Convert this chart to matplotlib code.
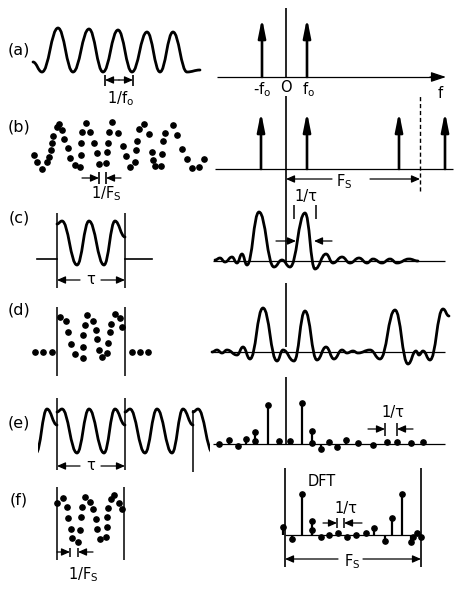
import matplotlib
matplotlib.use("Agg")
import matplotlib.pyplot as plt
from matplotlib.path import Path
from matplotlib.patches import PathPatch, Rectangle
from matplotlib.transforms import Affine2D

# ---- values, in panel-local units (t to the right, amplitude up) ----
# (a) continuous sinusoid: extrema
a_t = [-24, -15, 1, 16, 32, 46, 61, 75, 90, 103, 116, 130, 143]
a_v = [-12, -22, 22, -22, 21, -22, 20, -22, 18, -22, 18, -22, -20]
# (a) spectrum lines at -f0, f0
a_f = [-24, 21]
a_h = [59, 59]

# (b) sampled sinusoid
b_t = [-22.7, -19.7, -15.3, -10.3, -8, -6.3, -5.3, -4.3, -0.3, 2.3, 5, 7.3, 10.7, 13, 18, 23,
       23.7, 24, 25, 29, 33, 37.3, 39.7, 42.3, 49, 49.7, 51.3, 52, 55.3, 61.3, 66.3, 69, 73,
       78, 79, 79.7, 82.3, 87, 92.3, 94.7, 96.3, 98, 103.7, 104.7, 106.3, 108, 115.7, 119.7,
       124.7, 129.7, 134.7, 142, 147]
b_v = [-9, -15.7, -23, -15.7, -10.7, -4, 2.7, 10, 19.3, 22, 16, 6.7, -2.3, -12.3, -19, -20.7,
       -9, 2.7, 14.3, 23.3, 13.7, 2.7, -7.3, -18, -16.7, -6.3, 3.3, 14.3, 24.3, 12.7, 0, -10, -20.7,
       -15.7, -4, 5.3, 16.7, 22, 11.7, -5.7, -14, -20, -20, -8, 5.3, 13, 21, 11,
       -3.3, -13.3, -22.3, -20.7, -13.3]
# (b) spectrum lines (periodic with Fs)
b_f = [-25, 21, 113, 159]
b_h = [57, 57, 57, 57]
fs = 134

# (c) windowed signal, one window of length tau
tau = 68
w_t = [0, 5, 20, 32, 47, 58, 68]
w_v = [19, 22, -22, 22, -22, 22, 6]
c_zero = -16
# (c) spectrum of window: extrema
c_f = [-71, -66, -61, -54, -49, -44, -39, -27, -12, -4, 4, 19, 29, 40, 47, 56, 64, 73, 81, 87,
       96, 104, 111, 123, 132]
c_S = [1, 3, -1, 4, -2, 7, -4, 49, -6, 1, -6, 48, -8, 7, -2, 4, -2, 3, -2, 2, -2, 2, -2, 2, 0]

# (d) sampled window with zeros outside
d_t = [-22, -13.7, -4.7, 3, 9, 11.3, 14, 18, 25.7, 26.3, 26.3, 28, 30.3, 35.7, 38.7, 40.3, 42.3,
       45.3, 50.3, 51.3, 53, 54, 58, 63, 65.3, 74.7, 83, 91.3]
d_v = [0, 0, 0, 34.7, 31.3, 20.3, 8, -2.3, -6.3, 4.7, 17, 27, 37, 31.3, 22, 12.7, 2, -5.3, -1.3,
       9.3, 19.7, 28, 38, 33.7, 24.7, 0, 0, 0]
# (d) periodic spectrum: extrema
d_f = [-74, -69, -64, -59, -49, -43, -36, -23, -9, -3, 8, 19, 31, 40, 48, 56, 61, 67, 72, 84,
       94, 109, 122, 130, 133, 137, 144, 157, 163]
d_S = [0, 2, -1, 2, -3, 5, -7, 44, -9, 2, -9, 41, -8, 5, -7, 2, -1, 1, -1, 2, -7, 42, -12, 1,
       -3, 1, -8, 43, 36]

# (e) sampled spectrum (stems)
e_f = [-66.7, -56.7, -48.3, -40, -31, -31, -18.3, -6.7, 4, 15.7, 25.7, 25.7, 35, 43.3, 51.3,
       60, 72.3, 87.3, 100.7, 111.3, 125, 137.3]
e_S = [0, 4, -2, 5, 12.3, 3, 39, 3, 3, 41.3, 13, 1.3, -5.3, 2.3, -3.3, 4, 0.7, -1, 1.7, 1.7,
       0.7, 1.7]

# (f) samples of one window
f_t = [0.3, 5.7, 9.7, 11.3, 13.7, 14.7, 20.7, 23, 23.7, 24.7, 28, 33, 35.7, 38.7, 40.3, 43, 49,
       49.7, 50.3, 51.3, 54, 57.3, 62, 65.3]
f_v = [15.3, 19.7, 11.3, -0.3, -11.3, -19.7, -23.7, -12, 0.7, 11.3, 21.3, 16.3, 8.7, -1.3,
       -11.3, -21.3, -19.3, -9.3, 0.7, 10, 19, 22.7, 15.3, 9]
# (f) DFT over one period Fs
g_f = [-2.7, 5.7, 15.7, 25.7, 25.7, 35, 43.3, 51.7, 60.7, 70.3, 80, 88.3, 99, 105.7, 116.3,
       125, 127.3, 130.7, 134.7]
g_S = [8.3, -4.3, 41, 14.3, 5, -2.3, 0, 1.7, -1.7, 0, 1.7, 6.7, -6, 16.7, 41, -6.7, -1.7, 2.3,
       -1.7]

# ---- figure ----
fig = plt.figure(figsize=(4.59, 5.92), dpi=100)
ax = fig.add_axes([0, 0, 1, 1])
ax.set_xlim(0, 459)
ax.set_ylim(592, 0)
ax.axis('off')

LX, RX = 57, 286  # left and right panel origins
FONT = dict(family='DejaVu Sans', fontsize=10.5, ha='center', va='center')


def place(x0, y0):
    # panel-local units -> page (y down)
    return Affine2D().scale(1, -1).translate(x0, y0) + ax.transData


def smooth(ts, vs, trans, lw=2.0, clip=None, k=0.42):
    verts = [(ts[0], vs[0])]
    codes = [Path.MOVETO]
    for i in range(1, len(ts)):
        d = (ts[i] - ts[i - 1]) * k
        verts += [(ts[i - 1] + d, vs[i - 1]), (ts[i] - d, vs[i]), (ts[i], vs[i])]
        codes += [Path.CURVE4] * 3
    p = PathPatch(Path(verts, codes), fill=False, lw=lw, ec='k', transform=trans,
                  capstyle='round', joinstyle='round')
    ax.add_patch(p)
    if clip is not None:
        r = Rectangle((clip[0], -60), clip[1] - clip[0], 120, transform=trans)
        p.set_clip_path(r)


def line(x1, y1, x2, y2, lw=0.9, **kw):
    ax.plot([x1, x2], [y1, y2], color='k', lw=lw, solid_capstyle='butt', **kw)


def arrow(x1, y1, x2, y2, hl=0.5, hw=0.22, lw=0.9, coords='data'):
    ax.annotate('', xy=(x2, y2), xytext=(x1, y1), xycoords=coords, textcoords=coords,
                arrowprops=dict(arrowstyle=f'-|>,head_length={hl},head_width={hw}',
                                lw=lw, color='k', shrinkA=0, shrinkB=0))


def spikes(fr, hs, trans):
    for f, h in zip(fr, hs):
        arrow(f, 0, f, h, hl=1.1, hw=0.22, lw=1.9, coords=trans)


def stems(fr, hs, trans):
    ax.vlines(fr, 0, hs, colors='k', lw=1.6, transform=trans)
    ax.plot(fr, hs, 'o', color='k', ms=3.8, transform=trans)


def text(x, y, s, **kw):
    k = dict(FONT)
    k.update(kw)
    ax.text(x, y, s, **k)


# panel letters
for s, y in zip(['(a)', '(b)', '(c)', '(d)', '(e)', '(f)'], [50, 127, 218, 310, 423, 500]):
    text(19, y, s, fontsize=11.5)

# ---- (a) ----
smooth(a_t, a_v, place(LX, 50))
line(105, 75, 105, 86, lw=1.2)
line(133, 75, 133, 86, lw=1.2)
arrow(119, 80, 105, 80)
arrow(119, 80, 133, 80)
text(121, 99, r'1/f$_\mathregular{o}$')

line(217, 77, 440, 77)
arrow(430, 77, 446, 77, hl=0.9, hw=0.3)
line(RX, 8, RX, 77, lw=1.2)
spikes(a_f, a_h, place(RX, 77))
text(262, 90, r'-f$_\mathregular{o}$')
text(RX, 87, 'O')
text(309, 90, r'f$_\mathregular{o}$')
text(440, 93, 'f')

# ---- (b) ----
ax.plot(b_t, b_v, 'o', color='k', ms=3.8, transform=place(LX, 146))
line(99, 172, 99, 184, lw=1.2)
line(106, 172, 106, 184, lw=1.2)
arrow(82, 178, 99, 178)
arrow(121, 178, 106, 178)
text(106, 194, r'1/F$_\mathregular{S}$')

line(215, 169, 453, 169)
line(RX, 96, RX, 263, lw=1.2)
spikes(b_f, b_h, place(RX, 169))
tb = place(RX, 169)
ax.plot([fs, fs], [-22, 75], color='k', lw=1.0, ls=(0, (3, 2)), transform=tb)
arrow(332, 179, RX, 179)
arrow(370, 179, RX + fs, 179)
text(344, 182, r'F$_\mathregular{S}$')

# ---- (c) ----
tc = place(LX, 243)
smooth(w_t, w_v, tc)
ax.plot([-20, 0], [c_zero, c_zero], color='k', lw=1.2, transform=tc)
ax.plot([tau, tau + 27], [c_zero, c_zero], color='k', lw=1.2, transform=tc)
line(LX, 213, LX, 288, lw=1.1)
line(LX + tau, 213, LX + tau, 288, lw=1.1)
arrow(80, 280, LX, 280)
arrow(101, 280, LX + tau, 280)
text(91, 280, 'τ')

line(213, 261, 445, 261)
smooth(c_f, c_S, place(RX, 261), k=0.45)
line(294, 205, 294, 219, lw=1.1)
line(316, 205, 316, 219, lw=1.1)
arrow(276, 241, 296, 241)
arrow(332, 241, 314, 241)
text(306, 197, '1/τ')

# ---- (d) ----
ax.plot(d_t, d_v, 'o', color='k', ms=3.8, transform=place(LX, 352))
line(LX, 307, LX, 376, lw=1.1)
line(LX + tau, 307, LX + tau, 376, lw=1.1)

line(212, 352, 445, 352)
line(RX, 283, RX, 347, lw=1.2)
smooth(d_f, d_S, place(RX, 352), k=0.45)

# ---- (e) ----
te = place(LX, 431)
for n in [-1, 0, 1, 2]:
    smooth([t + n * tau for t in w_t], w_v, te, clip=(-19, 153))
line(LX, 398, LX, 470, lw=1.1)
line(LX + tau, 398, LX + tau, 470, lw=1.1)
line(LX + 2 * tau, 410, LX + 2 * tau, 472, lw=1.1)
arrow(80, 466, LX, 466)
arrow(101, 466, LX + tau, 466)
text(91, 466, 'τ')

line(213, 444, 445, 444)
line(RX, 377, RX, 444, lw=1.2)
stems(e_f, e_S, place(RX, 444))
line(385, 423, 385, 436, lw=1.1)
line(397, 423, 397, 436, lw=1.1)
arrow(368, 429, 385, 429)
arrow(413, 429, 397, 429)
text(393, 413, '1/τ')

# ---- (f) ----
ax.plot(f_t, f_v, 'o', color='k', ms=3.8, transform=place(LX, 518))
line(LX, 487, LX, 560, lw=1.1)
line(LX + tau - 1, 487, LX + tau - 1, 560, lw=1.1)
line(70, 548, 70, 557, lw=1.1)
line(78, 548, 78, 557, lw=1.1)
arrow(LX, 552, 70, 552)
arrow(93, 552, 78, 552)
text(83, 575, r'1/F$_\mathregular{S}$')

line(285, 535, 421, 535)
line(285, 468, 285, 567, lw=1.2)
line(421, 468, 421, 567, lw=1.2)
stems(g_f, g_S, place(RX, 535))
text(322, 481, 'DFT')
line(337, 518, 337, 528, lw=1.1)
line(344, 518, 344, 528, lw=1.1)
arrow(323, 523, 337, 523)
arrow(362, 523, 344, 523)
text(346, 508, '1/τ')
arrow(338, 559, 285, 559)
arrow(363, 559, 421, 559)
text(352, 562, r'F$_\mathregular{S}$')

fig.savefig('out.png', dpi=100)
